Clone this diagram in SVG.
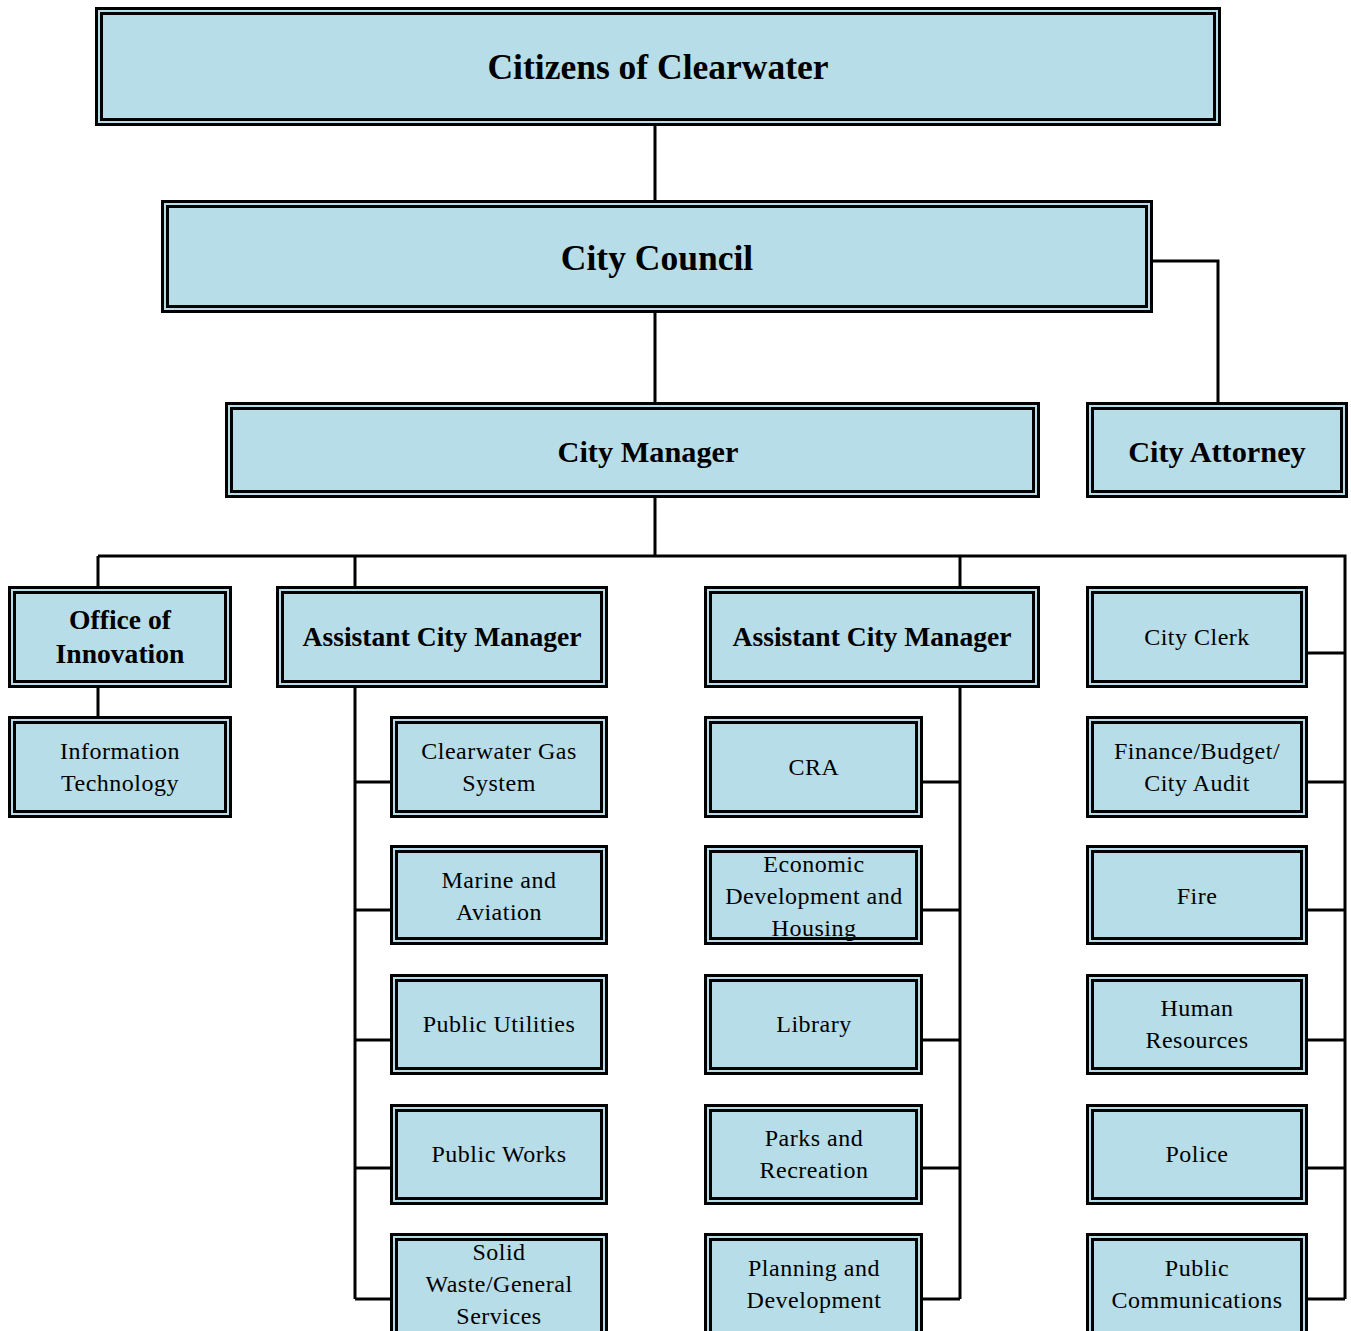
<svg xmlns="http://www.w3.org/2000/svg" width="1351" height="1331" viewBox="0 0 1351 1331">
<style>
.o{fill:#B7DDE8;stroke:#000;stroke-width:3}
.i{fill:none;stroke:#000;stroke-width:3}
.c{fill:none;stroke:#000;stroke-width:3}
text{font-family:"Liberation Serif","Times New Roman",serif;fill:#000;text-anchor:middle}
.b1{font-size:35.5px;font-weight:bold}
.b2{font-size:30.3px;font-weight:bold}
.b3{font-size:27.6px;font-weight:bold}
.r{font-size:24px;letter-spacing:0.5px}
</style>
<rect width="1351" height="1331" fill="#fff"/>
<g id="connectors">
<path class="c" d="M655 126V200M655 313V402M655 498V556M1153 261H1218V402"/>
<path class="c" d="M98 556H1345V1299M98 556V586M355 556V586M960 556V586M98 688V716"/>
<path class="c" d="M355 688V1299M355 782H390M355 910H390M355 1040H390M355 1168H390M355 1299H390"/>
<path class="c" d="M960 688V1299M923 782H960M923 910H960M923 1040H960M923 1168H960M923 1299H960"/>
<path class="c" d="M1308 653H1345M1308 782H1345M1308 910H1345M1308 1040H1345M1308 1168H1345M1308 1299H1345"/>
</g>
<g id="citizens"><rect class="o" x="96.5" y="8.5" width="1123" height="116"/><rect class="i" x="101.5" y="13.5" width="1113" height="106"/><text class="b1" x="658" y="79">Citizens of Clearwater</text></g>
<g id="council"><rect class="o" x="162.5" y="201.5" width="989" height="110"/><rect class="i" x="167.5" y="206.5" width="979" height="100"/><text class="b1" x="657" y="270">City Council</text></g>
<g id="manager"><rect class="o" x="226.5" y="403.5" width="812" height="93"/><rect class="i" x="231.5" y="408.5" width="802" height="83"/><text class="b2" x="648" y="462">City Manager</text></g>
<g id="attorney"><rect class="o" x="1087.5" y="403.5" width="259" height="93"/><rect class="i" x="1092.5" y="408.5" width="249" height="83"/><text class="b2" x="1217" y="462">City Attorney</text></g>
<g id="innovation"><rect class="o" x="9.5" y="587.5" width="221" height="99"/><rect class="i" x="14.5" y="592.5" width="211" height="89"/><text class="b3" x="120" y="629">Office of</text><text class="b3" x="120" y="663">Innovation</text></g>
<g id="acm1"><rect class="o" x="277.5" y="587.5" width="329" height="99"/><rect class="i" x="282.5" y="592.5" width="319" height="89"/><text class="b3" x="442" y="646">Assistant City Manager</text></g>
<g id="acm2"><rect class="o" x="705.5" y="587.5" width="333" height="99"/><rect class="i" x="710.5" y="592.5" width="323" height="89"/><text class="b3" x="872" y="646">Assistant City Manager</text></g>
<g id="clerk"><rect class="o" x="1087.5" y="587.5" width="219" height="99"/><rect class="i" x="1092.5" y="592.5" width="209" height="89"/><text class="r" x="1197" y="645">City Clerk</text></g>
<g id="it"><rect class="o" x="9.5" y="717.5" width="221" height="99"/><rect class="i" x="14.5" y="722.5" width="211" height="89"/><text class="r" x="120" y="759">Information</text><text class="r" x="120" y="791">Technology</text></g>
<g id="gas"><rect class="o" x="391.5" y="717.5" width="215" height="99"/><rect class="i" x="396.5" y="722.5" width="205" height="89"/><text class="r" x="499" y="759">Clearwater Gas</text><text class="r" x="499" y="791">System</text></g>
<g id="marine"><rect class="o" x="391.5" y="846.5" width="215" height="97"/><rect class="i" x="396.5" y="851.5" width="205" height="87"/><text class="r" x="499" y="888">Marine and</text><text class="r" x="499" y="920">Aviation</text></g>
<g id="utilities"><rect class="o" x="391.5" y="975.5" width="215" height="98"/><rect class="i" x="396.5" y="980.5" width="205" height="88"/><text class="r" x="499" y="1032">Public Utilities</text></g>
<g id="works"><rect class="o" x="391.5" y="1105.5" width="215" height="98"/><rect class="i" x="396.5" y="1110.5" width="205" height="88"/><text class="r" x="499" y="1162">Public Works</text></g>
<g id="solid"><rect class="o" x="391.5" y="1234.5" width="215" height="100"/><rect class="i" x="396.5" y="1239.5" width="205" height="100"/><text class="r" x="499" y="1260">Solid</text><text class="r" x="499" y="1292">Waste/General</text><text class="r" x="499" y="1324">Services</text></g>
<g id="cra"><rect class="o" x="705.5" y="717.5" width="216" height="99"/><rect class="i" x="710.5" y="722.5" width="206" height="89"/><text class="r" x="814" y="775">CRA</text></g>
<g id="econ"><rect class="o" x="705.5" y="846.5" width="216" height="97"/><rect class="i" x="710.5" y="851.5" width="206" height="87"/><text class="r" x="814" y="872">Economic</text><text class="r" x="814" y="904">Development and</text><text class="r" x="814" y="936">Housing</text></g>
<g id="library"><rect class="o" x="705.5" y="975.5" width="216" height="98"/><rect class="i" x="710.5" y="980.5" width="206" height="88"/><text class="r" x="814" y="1032">Library</text></g>
<g id="parks"><rect class="o" x="705.5" y="1105.5" width="216" height="98"/><rect class="i" x="710.5" y="1110.5" width="206" height="88"/><text class="r" x="814" y="1146">Parks and</text><text class="r" x="814" y="1178">Recreation</text></g>
<g id="planning"><rect class="o" x="705.5" y="1234.5" width="216" height="100"/><rect class="i" x="710.5" y="1239.5" width="206" height="100"/><text class="r" x="814" y="1276">Planning and</text><text class="r" x="814" y="1308">Development</text></g>
<g id="finance"><rect class="o" x="1087.5" y="717.5" width="219" height="99"/><rect class="i" x="1092.5" y="722.5" width="209" height="89"/><text class="r" x="1197" y="759">Finance/Budget/</text><text class="r" x="1197" y="791">City Audit</text></g>
<g id="fire"><rect class="o" x="1087.5" y="846.5" width="219" height="97"/><rect class="i" x="1092.5" y="851.5" width="209" height="87"/><text class="r" x="1197" y="904">Fire</text></g>
<g id="hr"><rect class="o" x="1087.5" y="975.5" width="219" height="98"/><rect class="i" x="1092.5" y="980.5" width="209" height="88"/><text class="r" x="1197" y="1016">Human</text><text class="r" x="1197" y="1048">Resources</text></g>
<g id="police"><rect class="o" x="1087.5" y="1105.5" width="219" height="98"/><rect class="i" x="1092.5" y="1110.5" width="209" height="88"/><text class="r" x="1197" y="1162">Police</text></g>
<g id="comms"><rect class="o" x="1087.5" y="1234.5" width="219" height="100"/><rect class="i" x="1092.5" y="1239.5" width="209" height="100"/><text class="r" x="1197" y="1276">Public</text><text class="r" x="1197" y="1308">Communications</text></g>
</svg>
